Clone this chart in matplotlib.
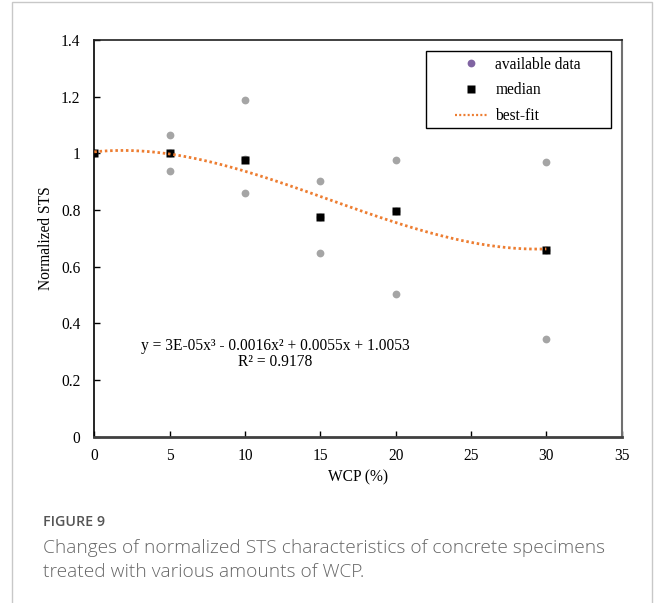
import matplotlib
matplotlib.use("Agg")
import matplotlib.pyplot as plt
from matplotlib.patches import Rectangle
from matplotlib.lines import Line2D
import numpy as np

# WCP content (%) and measured normalized STS values
wcp_all = [0, 5, 5, 5, 10, 10, 10, 15, 15, 15, 20, 20, 20, 30, 30, 30]
sts_all = [1.0, 1.065, 1.0, 0.937, 1.188, 0.98, 0.861, 0.903, 0.776, 0.647,
           0.976, 0.797, 0.502, 0.970, 0.658, 0.344]

wcp_med = [0, 5, 10, 15, 20, 30]
sts_med = [1.0, 1.0, 0.975, 0.776, 0.797, 0.658]

x_ticks = [0, 5, 10, 15, 20, 25, 30, 35]
y_ticks = [0, 0.2, 0.4, 0.6, 0.8, 1.0, 1.2, 1.4]
y_tick_labels = ["0", "0.2", "0.4", "0.6", "0.8", "1", "1.2", "1.4"]

eq_text = "y = 3E-05x³ - 0.0016x² + 0.0055x + 1.0053\nR² = 0.9178"
caption_title = "FIGURE 9"
caption_text = ("Changes of normalized STS characteristics of concrete specimens\n"
                "treated with various amounts of WCP.")

serif = "Liberation Serif"
fs = 11.2

fig = plt.figure(figsize=(6.56, 6.03), dpi=100)
ax = fig.add_axes([0.1438, 0.2758, 0.9477 - 0.1438, 0.9337 - 0.2758])

# cubic trendline through the medians
coef = np.polyfit(wcp_med, sts_med, 3)
xf = np.linspace(min(wcp_med), max(wcp_med), 200)
ax.plot(xf, np.polyval(coef, xf), color="#ED7D31", lw=2.0,
        linestyle=(0, (0.9, 1.0)), zorder=4)

ax.plot(wcp_all, sts_all, "o", color="#A5A5A5", ms=5.6, mec="none", zorder=2)
ax.plot(wcp_med, sts_med, "s", color="black", ms=6.2, mec="none", zorder=3)

ax.set_xlim(0, 35)
ax.set_ylim(0, 1.4)
ax.set_xticks(x_ticks)
ax.set_yticks(y_ticks)
ax.set_yticklabels(y_tick_labels)
ax.tick_params(direction="in", length=4, width=1, labelsize=fs)
ax.tick_params(axis="y", pad=10)
ax.tick_params(axis="x", pad=8)
for lab in ax.get_xticklabels() + ax.get_yticklabels():
    lab.set_family(serif)

ax.spines["left"].set_color("black")
ax.spines["left"].set_linewidth(1.2)
ax.spines["bottom"].set_color("#404040")
ax.spines["bottom"].set_linewidth(2.0)
ax.spines["top"].set_color("#202020")
ax.spines["top"].set_linewidth(1.2)
ax.spines["right"].set_color("#707070")
ax.spines["right"].set_linewidth(1.5)

ax.set_xlabel("WCP (%)", family=serif, fontsize=fs, labelpad=4)
ax.set_ylabel("Normalized STS", family=serif, fontsize=fs, labelpad=5)

ax.text(0.343, 0.208, eq_text, transform=ax.transAxes, ha="center", va="center",
        family=serif, fontsize=fs, linespacing=1.05)

# legend (frame drawn separately to get the wide Excel-style box)
handles = [
    Line2D([], [], ls="none", marker="o", color="#8064A2", ms=5.6, mec="none"),
    Line2D([], [], ls="none", marker="s", color="black", ms=6.2, mec="none"),
    Line2D([], [], color="#ED7D31", lw=1.6, linestyle=(0, (0.9, 1.0))),
]
leg = ax.legend(handles, ["available data", "median", "best-fit"],
                loc="upper left", bbox_to_anchor=(0.684, 0.958), frameon=False,
                prop={"family": serif, "size": fs}, handlelength=2.1,
                handletextpad=0.5, labelspacing=0.63, borderpad=0,
                borderaxespad=0)
ax.add_patch(Rectangle((0.628, 0.778), 0.352, 0.194, transform=ax.transAxes,
                       fill=False, ec="black", lw=1.0, zorder=5, clip_on=False))

# outer card border and caption
fig.patches.append(Rectangle((12 / 656, -0.05), 640 / 656, 1.05 - 2 / 603,
                             transform=fig.transFigure, fill=False,
                             ec="#c8c8c8", lw=1.0))
fig.text(43 / 656, 1 - 522 / 603, caption_title, family="Open Sans",
         fontweight="semibold", fontsize=10.3, color="#555555", va="center")
fig.text(43 / 656, 1 - 560 / 603, caption_text, family="Open Sans",
         fontweight="light", fontsize=13.8, color="#666666", va="center",
         linespacing=1.36)

fig.savefig("out.png", dpi=100)
